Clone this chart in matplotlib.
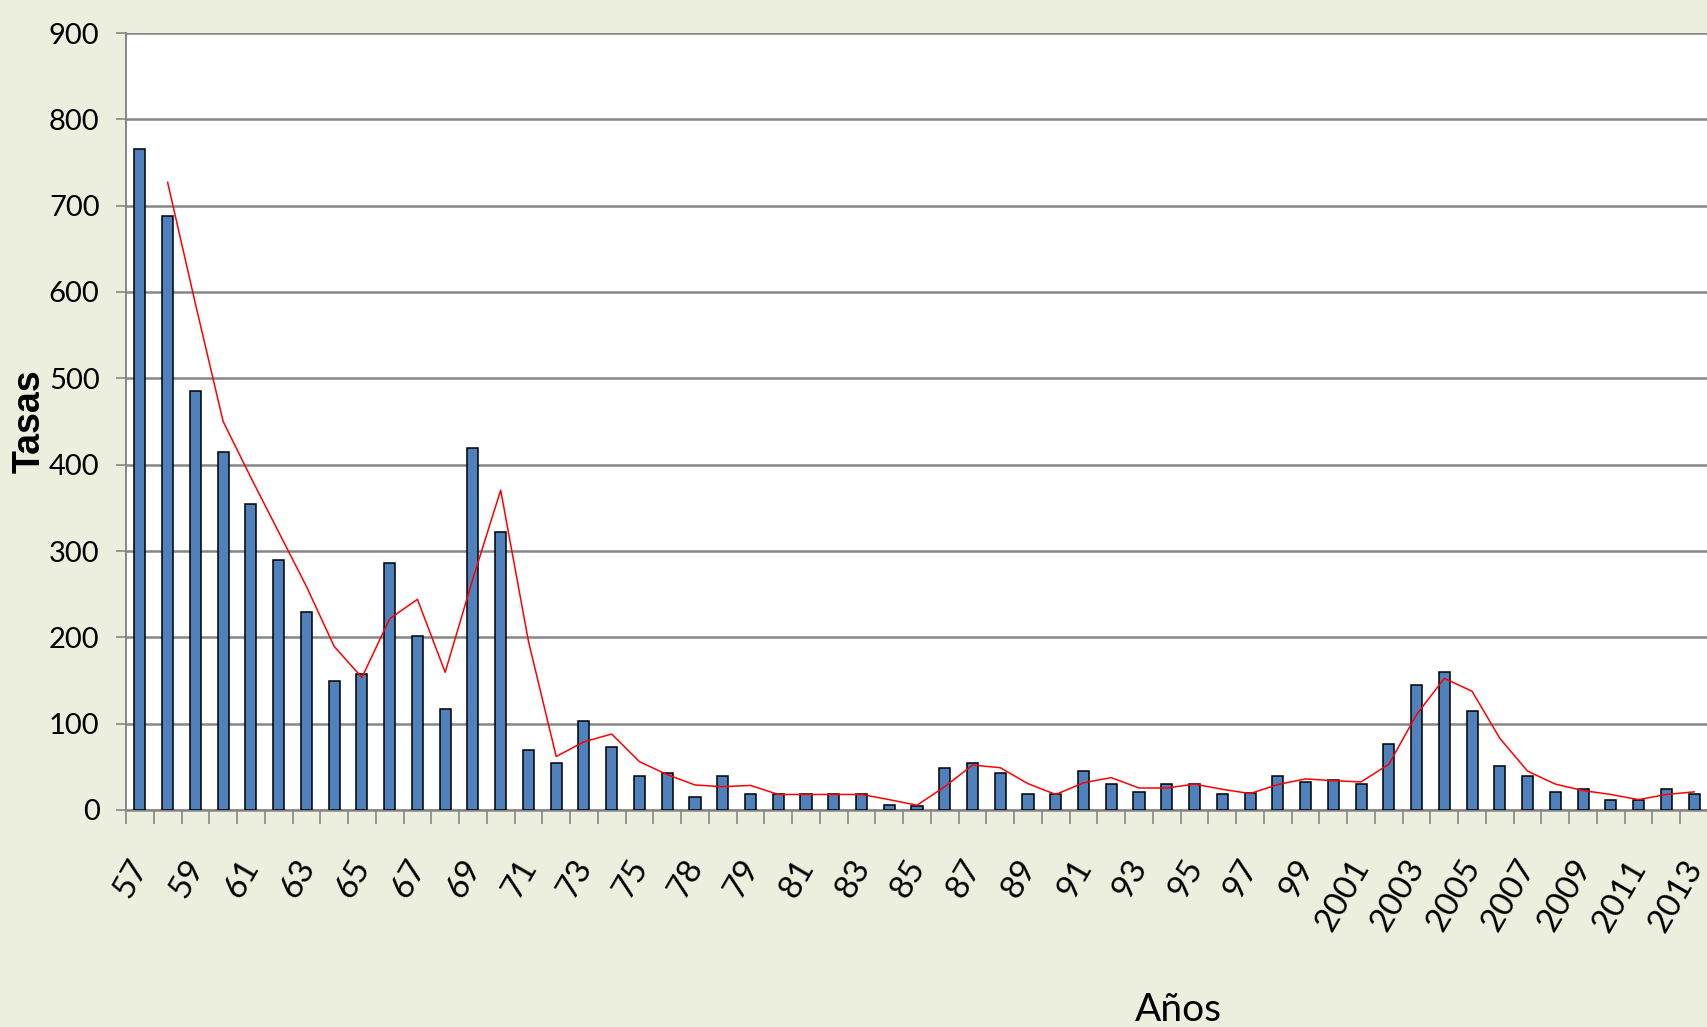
import matplotlib
matplotlib.use("Agg")
import matplotlib.pyplot as plt
import matplotlib.transforms as mtransforms
import numpy as np
import pandas as pd

# category labels as printed on the chart (one per year)
anios = ['57', '58', '59', '60', '61', '62', '63', '64', '65', '66',
         '67', '68', '69', '70', '71', '72', '73', '74', '75', '76',
         '78', '78', '79', '80', '81', '82', '83', '84', '85', '86',
         '87', '88', '89', '90', '91', '92', '93', '94', '95', '96',
         '97', '98', '99', '2000', '2001', '2002', '2003', '2004', '2005', '2006',
         '2007', '2008', '2009', '2010', '2011', '2012', '2013']

tasas = [766, 688, 485, 415, 355, 289, 229, 150, 157, 286,
         202, 117, 419, 322, 69, 55, 103, 73, 39, 43,
         15, 39, 18, 18, 18, 18, 18, 6, 5, 49,
         55, 43, 18, 18, 45, 30, 21, 30, 30, 18,
         20, 39, 33, 35, 30, 76, 145, 160, 115, 51,
         39, 21, 24, 12, 12, 24, 18]

# 2-period moving average trendline (as in the original spreadsheet chart)
media_movil = pd.Series(tasas).rolling(2).mean()

bg = '#ECEFDE'
gris = '#868686'

fig = plt.figure(figsize=(17.08, 10.27), dpi=100, facecolor=bg)
ax = fig.add_axes([126 / 1708, 1 - 810 / 1027, 1 - 126 / 1708, (810 - 33) / 1027])
ax.set_facecolor('white')

x = np.arange(len(tasas))
ax.bar(x, tasas, width=0.4, color='#4F81BD', edgecolor='black', linewidth=1.1, zorder=3)
ax.plot(x, media_movil, color='#FF0000', linewidth=1.1, zorder=4)

ax.set_xlim(-0.5, len(tasas) - 0.5)
ax.set_ylim(0, 900)
ax.set_yticks(np.arange(0, 901, 100))
ax.yaxis.grid(True, color=gris, linewidth=1.8, zorder=0)
ax.set_axisbelow(True)

for s in ['top', 'right']:
    ax.spines[s].set_visible(False)
ax.spines['left'].set_color(gris)
ax.spines['left'].set_linewidth(1.4)
ax.spines['bottom'].set_color(gris)
ax.spines['bottom'].set_linewidth(1.8)

# labels every other year, tick marks on every category boundary
ax.set_xticks(x[::2])
ax.set_xticklabels(anios[::2], rotation=60, ha='right', rotation_mode='anchor',
                   fontsize=24, family=['Lato', 'DejaVu Sans'])
ax.tick_params(axis='x', which='major', length=0, pad=32)
ax.set_xticks(np.arange(-0.5, len(tasas), 1), minor=True)
ax.tick_params(axis='x', which='minor', length=10, width=1.2, color=gris)
shift = mtransforms.ScaledTranslation(-12 / 100, 0, fig.dpi_scale_trans)
for lab in ax.get_xticklabels():
    lab.set_transform(lab.get_transform() + shift)

ax.tick_params(axis='y', length=7, width=1.2, color=gris, pad=12)
for lab in ax.get_yticklabels():
    lab.set_family(['Lato', 'DejaVu Sans'])
    lab.set_fontsize(21)

fig.text(30 / 1708, 1 - 421 / 1027, 'Tasas', rotation=90, ha='center', va='center',
         fontsize=27, fontweight='bold', family=['Liberation Sans', 'DejaVu Sans'])
fig.text(1178 / 1708, 0.006, 'Años', ha='center', va='baseline',
         fontsize=28, family=['Lato', 'DejaVu Sans'])

fig.savefig('out.png', dpi=100, facecolor=bg)
